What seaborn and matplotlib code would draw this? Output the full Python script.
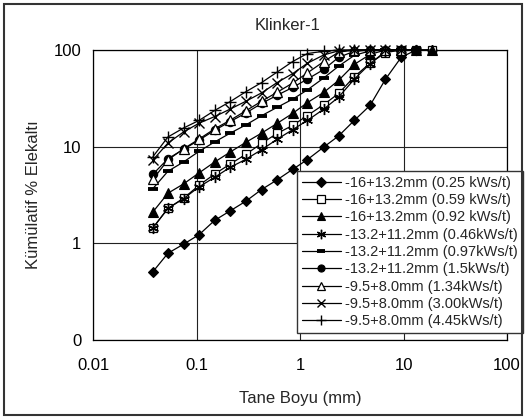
import numpy as np
import pandas as pd
import matplotlib
matplotlib.use("Agg")
import matplotlib.pyplot as plt
from matplotlib.patches import Rectangle
from matplotlib.ticker import FixedLocator, FixedFormatter, NullLocator
import seaborn as sns

# Sieve openings (mm)
sizes = [0.038, 0.053, 0.075, 0.106, 0.150, 0.212, 0.300, 0.425, 0.600,
         0.850, 1.18, 1.70, 2.36, 3.35, 4.75, 6.70, 9.50, 13.2, 19.0]

# Cumulative % passing for each test
s16_025 = [0.51, 0.79, 0.98, 1.23, 1.73, 2.17, 2.73, 3.6, 4.53, 5.83, 7.35,
           9.93, 12.9, 18.7, 26.7, 49.9, 84, 100, 100]
s16_059 = [1.45, 2.30, 2.93, 3.99, 5.22, 6.62, 8.34, 10.8, 13.7, 16.6, 21.0,
           27.3, 35.5, 53, 73, 94, 100, 100, 100]
s16_092 = [2.12, 3.30, 4.12, 5.36, 6.95, 8.8, 11.1, 13.8, 17.4, 22.1, 28.6,
           36.5, 48.5, 71, 90, 100, 100, 100, 100]
s13_046 = [1.45, 2.3, 2.9, 3.84, 4.83, 6.12, 7.4, 9.3, 11.9, 15.0, 18.7,
           24.5, 32.5, 50, 72, 97, 100, 100]
s13_097 = [3.69, 5.57, 6.95, 8.95, 11.2, 13.8, 16.8, 20.9, 25.5, 31, 38.7,
           51.5, 68, 88, 98, 100, 100, 100]
s13_150 = [5.2, 7.5, 9.4, 11.7, 14.8, 18.2, 22.3, 28, 34, 41, 50, 63, 84,
           97, 100, 100, 100, 100]
s95_134 = [4.6, 7.3, 9.5, 12.0, 15.3, 18.8, 23.5, 29.5, 36.5, 45.5, 58, 76,
           95, 100, 100, 100, 100]
s95_300 = [7.3, 10.9, 14.2, 17.5, 20.5, 24.5, 29.5, 36, 46, 57, 73, 89, 98,
           100, 100, 100, 100]
s95_445 = [7.9, 12.6, 15.6, 18.7, 23.7, 29.3, 37, 46, 59, 76, 92, 97, 100,
           100, 100, 100, 100]

labels = ["-16+13.2mm (0.25 kWs/t)", "-16+13.2mm (0.59 kWs/t)",
          "-16+13.2mm (0.92 kWs/t)", "-13.2+11.2mm (0.46kWs/t)",
          "-13.2+11.2mm (0.97kWs/t)", "-13.2+11.2mm (1.5kWs/t)",
          "-9.5+8.0mm (1.34kWs/t)", "-9.5+8.0mm (3.00kWs/t)",
          "-9.5+8.0mm (4.45kWs/t)"]
series = [s16_025, s16_059, s16_092, s13_046, s13_097, s13_150,
          s95_134, s95_300, s95_445]

styles = [
    dict(marker="D", ms=5.5, mfc="black", mew=0.8),
    dict(marker="s", ms=6.0, mfc="white", mew=0.9),
    dict(marker="^", ms=7.0, mfc="black", mew=0.8),
    dict(marker=(6, 2, 0), ms=8.0, mfc="black", mew=1.0),
    dict(marker="_", ms=7.5, mfc="black", mew=2.8),
    dict(marker="o", ms=6.0, mfc="black", mew=0.8),
    dict(marker="^", ms=7.0, mfc="white", mew=0.9),
    dict(marker="x", ms=7.0, mfc="black", mew=1.0),
    dict(marker="+", ms=8.5, mfc="black", mew=1.0),
]

sns.set_style("white")
plt.rcParams["font.family"] = ["Liberation Sans", "DejaVu Sans"]

fig = plt.figure(figsize=(5.26, 4.18), dpi=100)
ax = fig.add_axes([93 / 526, 78 / 418, 414 / 526, 290 / 418])

for vals, lab, st in zip(series, labels, styles):
    df = pd.DataFrame({"size": sizes[:len(vals)], "pass": vals})
    sns.lineplot(data=df, x="size", y="pass", ax=ax, color="black",
                 linewidth=0.9, label=lab, mec="black", clip_on=False,
                 zorder=3, **st)

ax.set_xscale("log")
ax.set_yscale("log")
ax.set_xlim(0.01, 100)
ax.set_ylim(0.1, 100)

ax.xaxis.set_major_locator(FixedLocator([0.01, 0.1, 1, 10, 100]))
ax.xaxis.set_major_formatter(FixedFormatter(["0.01", "0.1", "1", "10", "100"]))
ax.yaxis.set_major_locator(FixedLocator([0.1, 1, 10, 100]))
ax.yaxis.set_major_formatter(FixedFormatter(["0", "1", "10", "100"]))
ax.xaxis.set_minor_locator(NullLocator())
ax.yaxis.set_minor_locator(NullLocator())

ax.grid(True, which="major", color="#222222", linewidth=0.8)
ax.tick_params(axis="x", direction="inout", length=10, width=0.9,
               labelsize=12, pad=8, colors="black")
ax.tick_params(axis="y", direction="inout", length=9, width=0.9,
               labelsize=12, pad=4, colors="black")
for sp in ax.spines.values():
    sp.set_visible(True)
    sp.set_color("black")
    sp.set_linewidth(0.9)

ax.set_xlabel("Tane Boyu (mm)", fontsize=12, labelpad=13)
ax.set_ylabel("Kümülatif % Elekaltı", fontsize=12, labelpad=9)
fig.text(288 / 526, 1 - 25 / 418, "Klinker-1", fontsize=12,
         ha="center", va="center")

leg = ax.legend(loc="upper left", bbox_to_anchor=((297 - 93) / 414, (340 - 171) / 290),
                borderaxespad=0, fontsize=10.5, frameon=True, fancybox=False,
                edgecolor="#333333", framealpha=1, handlelength=2.7,
                handletextpad=0.3, labelspacing=0.23, borderpad=0.32,
                markerscale=0.85)
leg.get_frame().set_linewidth(1.0)
leg.set_zorder(5)

fig.patches.append(Rectangle((4 / 526, 3 / 418), 518 / 526, 411 / 418,
                             transform=fig.transFigure, fill=False,
                             edgecolor="#333333", linewidth=1.5))

fig.savefig("out.png", dpi=100, facecolor="white")
